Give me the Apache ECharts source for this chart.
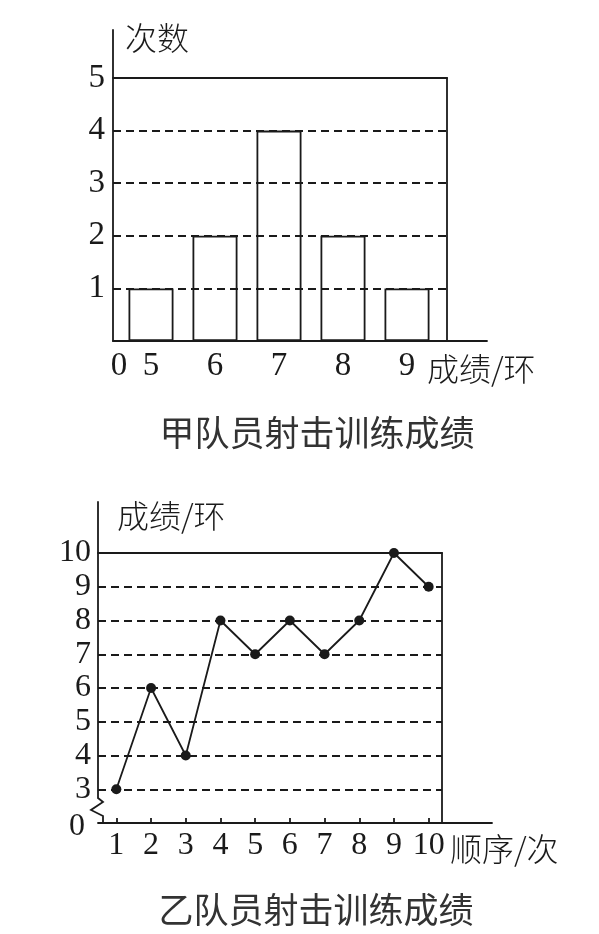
<!DOCTYPE html>
<html>
<head>
<meta charset="utf-8">
<script src="https://cdn.jsdelivr.net/npm/echarts@6/dist/echarts.min.js"></script>
<style>
  html, body { margin: 0; padding: 0; background: #fff; }
  #chart { width: 599px; height: 934px; }
</style>
</head>
<body>
<div id="chart"></div>
<script>
// 甲队员: 成绩 -> 次数
const jiaScores = ['5', '6', '7', '8', '9'];
const jiaCounts = [1, 2, 4, 2, 1];

// 乙队员: 顺序 -> 成绩
const yiOrder = ['1', '2', '3', '4', '5', '6', '7', '8', '9', '10'];
const yiScores = [3, 6, 4, 8, 7, 8, 7, 8, 10, 9];

const ink = '#1a1a1a';
const lw = 1.8;
const numFont = 'Liberation Serif';
const cjkFont = 'Noto Sans CJK SC';
const dash = [8, 5];

// layout of the grids
const g = [
    { left: 113, top: 78, width: 334, height: 263 },   // 0 甲 frame + dashed lines
    { left: 113, top: 30, width: 374, height: 311 },   // 1 甲 long axes
    { left: 98, top: 553, width: 344, height: 270 },   // 2 乙 frame + dashed lines
    { left: 98, top: 502, width: 394, height: 296 },   // 3 乙 y axis above the break
    { left: 98, top: 553, width: 394, height: 270 },   // 4 乙 long x axis
    { left: 119, top: 78, width: 320, height: 263 },   // 5 甲 bars
    { left: 99, top: 553, width: 347, height: 270 }    // 6 乙 line
];

const chart = echarts.init(document.getElementById('chart'));

// only draws a line, used for the frame edges and the long axes
function lineAxis(gridIndex, position, extra) {
    return Object.assign({
        gridIndex: gridIndex,
        position: position,
        type: 'value',
        min: 0,
        max: 1,
        axisLine: { show: true, onZero: false, lineStyle: { color: ink, width: lw } },
        axisTick: { show: false },
        axisLabel: { show: false },
        splitLine: { show: false }
    }, extra || {});
}

const nameStyle = { fontFamily: cjkFont, fontSize: 32, color: ink, fontWeight: 300 };
const titleStyle = { fontFamily: cjkFont, fontSize: 35, fontWeight: 'normal', color: '#333' };

const option = {
    animation: false,
    backgroundColor: '#fff',
    title: [
        { text: '甲队员射击训练成绩', left: 312, top: 410, textAlign: 'center', textStyle: titleStyle },
        { text: '乙队员射击训练成绩', left: 311, top: 887, textAlign: 'center', textStyle: titleStyle }
    ],
    grid: g,
    xAxis: [
        lineAxis(0, 'top'),
        lineAxis(1, 'bottom', {
            max: 10,
            interval: 10,
            axisLabel: {
                show: true, margin: 9, padding: [0, 0, 0, 12],
                fontFamily: numFont, fontSize: 33, color: ink,
                formatter: v => (v === 0 ? '0' : '')
            },
            name: '成绩/环',
            nameLocation: 'end',
            nameGap: -60,
            nameTextStyle: Object.assign({ align: 'left', verticalAlign: 'top', padding: [12, 0, 0, 0] }, nameStyle)
        }),
        lineAxis(2, 'top'),
        { gridIndex: 3, type: 'value', show: false },
        lineAxis(4, 'bottom', {
            name: '顺序/次',
            nameLocation: 'end',
            nameGap: -42,
            nameTextStyle: Object.assign({ align: 'left', verticalAlign: 'top', padding: [10, 0, 0, 0] }, nameStyle)
        }),
        {
            gridIndex: 5,
            type: 'category',
            data: jiaScores,
            axisLine: { show: false },
            axisTick: { show: false },
            axisLabel: { margin: 9, fontFamily: numFont, fontSize: 33, color: ink }
        },
        {
            gridIndex: 6,
            type: 'category',
            data: yiOrder,
            axisLine: { show: true, onZero: false, lineStyle: { color: ink, width: lw } },
            axisTick: { show: true, inside: true, alignWithLabel: true, length: 5, lineStyle: { color: ink, width: lw } },
            axisLabel: { interval: 0, margin: 7, fontFamily: numFont, fontSize: 32, color: ink }
        }
    ],
    yAxis: [
        {
            gridIndex: 0,
            type: 'value',
            min: 0,
            max: 5,
            interval: 1,
            axisLine: { show: false },
            axisTick: { show: false },
            axisLabel: { margin: 8, fontFamily: numFont, fontSize: 33, color: ink, formatter: v => (v === 0 ? '' : v) },
            splitLine: { show: true, lineStyle: { color: ink, width: lw, type: dash } }
        },
        lineAxis(0, 'right'),
        lineAxis(1, 'left', {
            name: '次数',
            nameLocation: 'end',
            nameGap: -8,
            nameTextStyle: Object.assign({ align: 'left', verticalAlign: 'middle', padding: [0, 0, 0, 12] }, nameStyle)
        }),
        {
            gridIndex: 2,
            type: 'value',
            min: 2,
            max: 10,
            interval: 1,
            axisLine: { show: false },
            axisTick: { show: false },
            // the axis is broken below 3, so the bottom tick reads 0
            axisLabel: {
                margin: 7, fontFamily: numFont, fontSize: 32, color: ink,
                formatter: v => (v === 2 ? '{z|0}' : String(v)),
                rich: { z: { fontFamily: numFont, fontSize: 32, color: ink, padding: [8, 6, 0, 0] } }
            },
            splitLine: { show: true, lineStyle: { color: ink, width: lw, type: dash } }
        },
        lineAxis(2, 'right'),
        lineAxis(3, 'left', {
            name: '成绩/环',
            nameLocation: 'end',
            nameGap: -14,
            nameTextStyle: Object.assign({ align: 'left', verticalAlign: 'middle', padding: [0, 0, 0, 19] }, nameStyle)
        }),
        { gridIndex: 4, type: 'value', show: false },
        { gridIndex: 5, type: 'value', min: 0, max: 5, show: false },
        { gridIndex: 6, type: 'value', min: 2, max: 10, show: false }
    ],
    series: [
        {
            name: '甲',
            type: 'bar',
            xAxisIndex: 5,
            yAxisIndex: 7,
            data: jiaCounts,
            barWidth: 45,
            itemStyle: { color: 'rgba(0,0,0,0)', borderColor: ink, borderWidth: lw }
        },
        {
            name: '乙',
            type: 'line',
            xAxisIndex: 6,
            yAxisIndex: 8,
            data: yiScores,
            symbol: 'circle',
            symbolSize: 10,
            itemStyle: { color: ink },
            lineStyle: { color: ink, width: lw }
        }
    ]
};

chart.setOption(option);

// break mark on the 乙 y axis, between the top part and the baseline
const bx = g[3].left;
const bTop = g[3].top + g[3].height;
const bBase = g[2].top + g[2].height;
chart.setOption({
    graphic: [{
        type: 'polyline',
        shape: {
            points: [
                [bx, bTop], [bx + 5, bTop + 4], [bx - 7, bTop + 12],
                [bx + 5, bTop + 18], [bx + 5, bBase], [bx + 8, bBase]
            ]
        },
        style: { stroke: ink, lineWidth: lw, fill: null }
    }]
});
</script>
</body>
</html>
